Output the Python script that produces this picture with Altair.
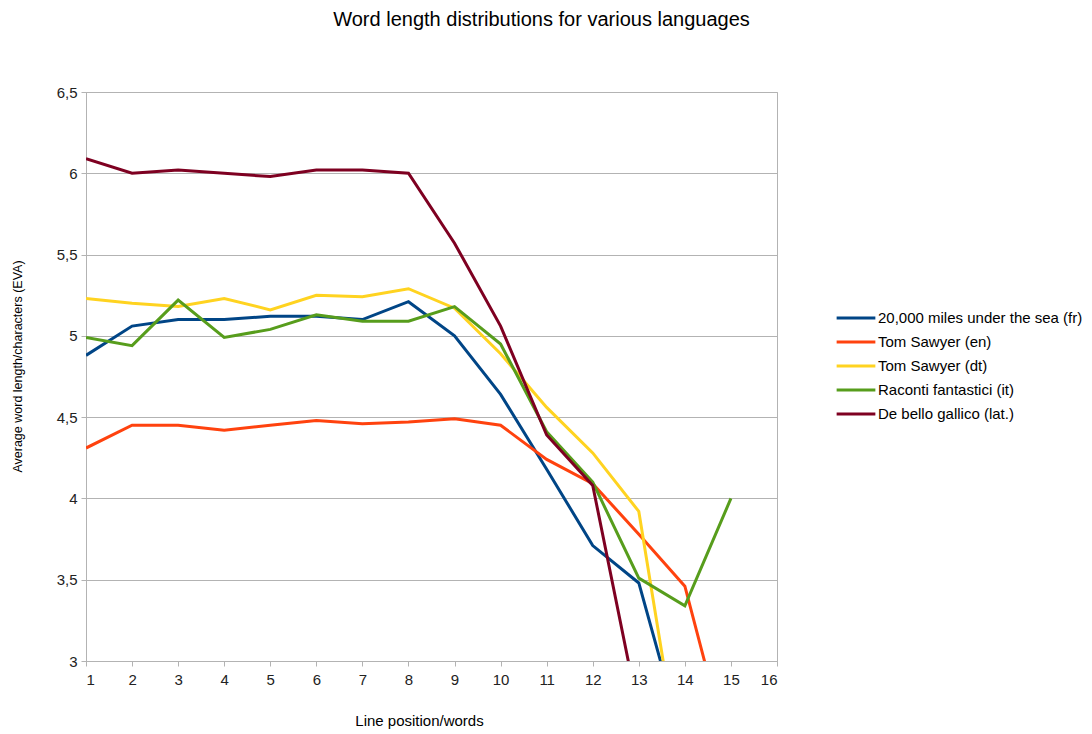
import altair as alt
import pandas as pd

series_names = [
    "20,000 miles under the sea (fr)",
    "Tom Sawyer (en)",
    "Tom Sawyer (dt)",
    "Raconti fantastici (it)",
    "De bello gallico (lat.)",
]
colors = ["#004586", "#ff420e", "#ffd320", "#579d1c", "#7e0021"]

x_fr = [1, 2, 3, 4, 5, 6, 7, 8, 9, 10, 11, 12, 13, 14]
y_fr = [4.88, 5.06, 5.10, 5.10, 5.12, 5.12, 5.10, 5.21, 5.00, 4.64, 4.18, 3.71, 3.48, 2.46]

x_en = [1, 2, 3, 4, 5, 6, 7, 8, 9, 10, 11, 12, 13, 14, 15]
y_en = [4.31, 4.45, 4.45, 4.42, 4.45, 4.48, 4.46, 4.47, 4.49, 4.45, 4.24, 4.09, 3.78, 3.46, 2.38]

x_dt = [1, 2, 3, 4, 5, 6, 7, 8, 9, 10, 11, 12, 13, 14]
y_dt = [5.23, 5.20, 5.18, 5.23, 5.16, 5.25, 5.24, 5.29, 5.17, 4.89, 4.56, 4.28, 3.92, 2.18]

x_it = [1, 2, 3, 4, 5, 6, 7, 8, 9, 10, 11, 12, 13, 14, 15]
y_it = [4.99, 4.94, 5.22, 4.99, 5.04, 5.13, 5.09, 5.09, 5.18, 4.95, 4.41, 4.10, 3.51, 3.34, 4.00]

x_lat = [1, 2, 3, 4, 5, 6, 7, 8, 9, 10, 11, 12, 13]
y_lat = [6.09, 6.00, 6.02, 6.00, 5.98, 6.02, 6.02, 6.00, 5.57, 5.06, 4.39, 4.08, 2.68]

xs = [x_fr, x_en, x_dt, x_it, x_lat]
ys = [y_fr, y_en, y_dt, y_it, y_lat]

rows = []
for name, xv, yv in zip(series_names, xs, ys):
    for a, b in zip(xv, yv):
        rows.append({"series": name, "pos": a, "len": b})
df = pd.DataFrame(rows)

FONT = "Liberation Sans"

chart = (
    alt.Chart(df)
    .mark_line(strokeWidth=3, clip=True)
    .encode(
        x=alt.X(
            "pos:Q",
            scale=alt.Scale(domain=[1, 16], nice=False, zero=False),
            axis=alt.Axis(
                title="Line position/words",
                values=list(range(1, 17)),
                grid=False,
                tickSize=5,
                labelPadding=6,
                labelFontSize=15,
                labelColor="#222222",
                domainColor="#b3b3b3",
                tickColor="#b3b3b3",
                titleFontSize=15,
                titleFontWeight="normal",
                titleColor="#000000",
                titleX=333,
                titleY=59,
                titleBaseline="middle",
                titleAlign="center",
            ),
        ),
        y=alt.Y(
            "len:Q",
            scale=alt.Scale(domain=[3, 6.5], nice=False, zero=False),
            axis=alt.Axis(
                title="Average word length/characters (EVA)",
                values=[3, 3.5, 4, 4.5, 5, 5.5, 6, 6.5],
                labelExpr="replace(format(datum.value, '~g'), '.', ',')",
                grid=True,
                gridColor="#b3b3b3",
                tickSize=5,
                labelPadding=4,
                labelFontSize=15,
                labelColor="#222222",
                domainColor="#b3b3b3",
                tickColor="#b3b3b3",
                titleFontSize=12.5,
                titleFontWeight="normal",
                titleColor="#000000",
                titleAngle=270,
                titleX=-69,
                titleY=274,
                titleAlign="center",
                titleBaseline="middle",
            ),
        ),
        color=alt.Color(
            "series:N",
            scale=alt.Scale(domain=series_names, range=colors),
            sort=series_names,
            legend=alt.Legend(
                title=None,
                orient="none",
                legendX=749,
                legendY=216,
                symbolType="stroke",
                symbolSize=1500,
                symbolStrokeWidth=3,
                clipHeight=20,
                rowPadding=4,
                labelFontSize=15,
                labelColor="#000000",
                labelOffset=1,
                labelLimit=400,
            ),
        ),
        detail="series:N",
    )
    .properties(
        width=691,
        height=569,
        padding={"left": 78, "top": 84, "right": 307, "bottom": 72},
        autosize=alt.AutoSizeParams(type="none"),
        title=alt.TitleParams(
            "Word length distributions for various languages",
            fontSize=20,
            fontWeight="normal",
            color="#000000",
            font=FONT,
            anchor="middle",
            dx=110,
            offset=55,
        ),
    )
    .configure(font=FONT)
    .configure_view(stroke="#b3b3b3", strokeWidth=1)
)

chart.save("out.html", embed_options={"renderer": "svg", "actions": False})
